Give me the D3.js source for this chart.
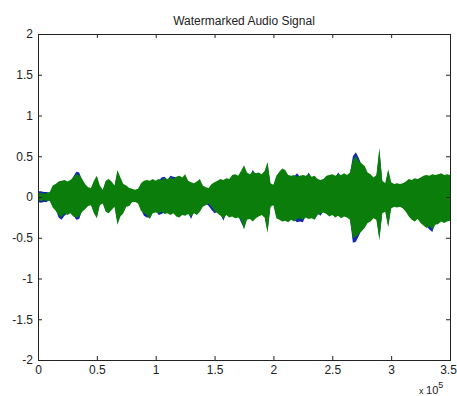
<!DOCTYPE html>
<html>
<head>
<meta charset="utf-8">
<script src="https://cdn.jsdelivr.net/npm/d3@7"></script>
<style>
  body { margin: 0; background: #fff; }
  text { font-family: "Liberation Sans", Arial, sans-serif; fill: #222; }
</style>
</head>
<body>
<div id="chart"></div>
<script>
// envelopes read every 2500 samples
const sampleStep = 2500

// watermarked signal (green)
const greenTop = [
  0.05, 0.05, 0.04, 0.05, 0.06, 0.14, 0.16, 0.19, 0.20, 0.21,
  0.19, 0.21, 0.24, 0.28, 0.27, 0.22, 0.16, 0.12, 0.11, 0.20,
  0.26, 0.14, 0.09, 0.20, 0.22, 0.19, 0.14, 0.33, 0.24, 0.16,
  0.14, 0.11, 0.10, 0.09, 0.10, 0.17, 0.20, 0.21, 0.20, 0.22,
  0.20, 0.22, 0.21, 0.23, 0.22, 0.24, 0.22, 0.25, 0.26, 0.24,
  0.28, 0.20, 0.18, 0.17, 0.19, 0.22, 0.14, 0.12, 0.11, 0.16,
  0.18, 0.20, 0.22, 0.21, 0.23, 0.22, 0.27, 0.28, 0.26, 0.32,
  0.39, 0.30, 0.28, 0.31, 0.29, 0.30, 0.28, 0.32, 0.43, 0.17,
  0.15, 0.26, 0.31, 0.35, 0.33, 0.27, 0.26, 0.27, 0.25, 0.26,
  0.27, 0.26, 0.28, 0.25, 0.26, 0.22, 0.21, 0.22, 0.26, 0.27,
  0.28, 0.26, 0.28, 0.27, 0.29, 0.27, 0.30, 0.45, 0.50, 0.44,
  0.41, 0.38, 0.30, 0.28, 0.24, 0.27, 0.60, 0.20, 0.17, 0.34,
  0.18, 0.16, 0.17, 0.16, 0.17, 0.19, 0.22, 0.21, 0.23, 0.22,
  0.24, 0.26, 0.27, 0.26, 0.28, 0.27, 0.28, 0.29, 0.27, 0.28,
  0.27
]
const greenBottom = [
  -0.04, -0.05, -0.04, -0.05, -0.05, -0.13, -0.17, -0.22, -0.25, -0.20,
  -0.22, -0.20, -0.24, -0.25, -0.24, -0.18, -0.15, -0.11, -0.10, -0.20,
  -0.26, -0.10, -0.08, -0.18, -0.20, -0.16, -0.12, -0.34, -0.24, -0.20,
  -0.12, -0.11, -0.06, -0.06, -0.08, -0.17, -0.20, -0.22, -0.27, -0.20,
  -0.19, -0.20, -0.18, -0.21, -0.20, -0.22, -0.20, -0.24, -0.25, -0.22,
  -0.23, -0.21, -0.24, -0.20, -0.22, -0.18, -0.12, -0.10, -0.08, -0.12,
  -0.17, -0.20, -0.23, -0.26, -0.22, -0.25, -0.24, -0.26, -0.25, -0.28,
  -0.40, -0.28, -0.27, -0.30, -0.26, -0.24, -0.22, -0.25, -0.44, -0.12,
  -0.10, -0.26, -0.28, -0.30, -0.29, -0.31, -0.28, -0.30, -0.27, -0.26,
  -0.28, -0.25, -0.27, -0.26, -0.28, -0.22, -0.20, -0.19, -0.21, -0.24,
  -0.22, -0.25, -0.23, -0.26, -0.24, -0.25, -0.28, -0.50, -0.49, -0.45,
  -0.42, -0.38, -0.32, -0.30, -0.26, -0.28, -0.53, -0.20, -0.18, -0.37,
  -0.14, -0.12, -0.13, -0.12, -0.14, -0.18, -0.24, -0.28, -0.30, -0.27,
  -0.32, -0.35, -0.38, -0.36, -0.40, -0.34, -0.33, -0.30, -0.32, -0.30,
  -0.29
]

// original signal (blue), mostly hidden under the green one
const blueTop = [
  0.07, 0.07, 0.06, 0.06, 0.05, 0.12, 0.14, 0.17, 0.19, 0.19,
  0.17, 0.19, 0.25, 0.31, 0.30, 0.21, 0.14, 0.10, 0.09, 0.18,
  0.24, 0.12, 0.07, 0.18, 0.20, 0.17, 0.12, 0.30, 0.22, 0.14,
  0.12, 0.09, 0.08, 0.07, 0.08, 0.15, 0.18, 0.19, 0.18, 0.20,
  0.18, 0.20, 0.24, 0.25, 0.21, 0.26, 0.25, 0.24, 0.25, 0.22,
  0.26, 0.18, 0.16, 0.15, 0.17, 0.20, 0.12, 0.10, 0.09, 0.14,
  0.16, 0.18, 0.20, 0.19, 0.21, 0.20, 0.25, 0.26, 0.24, 0.30,
  0.36, 0.28, 0.26, 0.33, 0.27, 0.28, 0.26, 0.30, 0.40, 0.15,
  0.13, 0.24, 0.29, 0.33, 0.31, 0.25, 0.24, 0.25, 0.29, 0.25,
  0.25, 0.24, 0.30, 0.23, 0.24, 0.20, 0.19, 0.20, 0.24, 0.25,
  0.26, 0.24, 0.30, 0.25, 0.27, 0.25, 0.28, 0.50, 0.55, 0.48,
  0.39, 0.36, 0.28, 0.26, 0.22, 0.25, 0.57, 0.18, 0.15, 0.32,
  0.16, 0.14, 0.15, 0.14, 0.15, 0.17, 0.20, 0.19, 0.21, 0.20,
  0.22, 0.24, 0.25, 0.24, 0.26, 0.25, 0.26, 0.27, 0.25, 0.26,
  0.25
]
const blueBottom = [
  -0.06, -0.07, -0.06, -0.06, -0.03, -0.11, -0.15, -0.25, -0.28, -0.23,
  -0.20, -0.18, -0.22, -0.28, -0.27, -0.16, -0.13, -0.09, -0.08, -0.18,
  -0.24, -0.08, -0.06, -0.16, -0.18, -0.14, -0.10, -0.31, -0.22, -0.18,
  -0.10, -0.09, -0.04, -0.04, -0.06, -0.15, -0.23, -0.25, -0.25, -0.18,
  -0.17, -0.22, -0.21, -0.19, -0.18, -0.20, -0.18, -0.22, -0.23, -0.20,
  -0.21, -0.19, -0.27, -0.18, -0.20, -0.16, -0.10, -0.08, -0.11, -0.16,
  -0.20, -0.18, -0.21, -0.29, -0.20, -0.23, -0.22, -0.24, -0.23, -0.31,
  -0.38, -0.26, -0.25, -0.28, -0.24, -0.22, -0.20, -0.23, -0.41, -0.10,
  -0.08, -0.24, -0.26, -0.28, -0.27, -0.29, -0.26, -0.28, -0.31, -0.30,
  -0.31, -0.23, -0.25, -0.24, -0.26, -0.20, -0.23, -0.17, -0.19, -0.22,
  -0.20, -0.23, -0.21, -0.24, -0.22, -0.23, -0.26, -0.56, -0.55, -0.48,
  -0.40, -0.36, -0.30, -0.28, -0.24, -0.26, -0.50, -0.18, -0.16, -0.35,
  -0.12, -0.10, -0.11, -0.10, -0.12, -0.16, -0.22, -0.26, -0.28, -0.25,
  -0.30, -0.33, -0.36, -0.40, -0.43, -0.32, -0.31, -0.28, -0.30, -0.28,
  -0.27
]

const xTicks = [0, 50000, 100000, 150000, 200000, 250000, 300000, 350000]
const xTickLabels = ['0', '0.5', '1', '1.5', '2', '2.5', '3', '3.5']
const yTicks = [-2, -1.5, -1, -0.5, 0, 0.5, 1, 1.5, 2]
const yTickLabels = ['-2', '-1.5', '-1', '-0.5', '0', '0.5', '1', '1.5', '2']
const title = 'Watermarked Audio Signal'

const width = 457
const height = 396
const margin = {top: 34, right: 7, bottom: 36, left: 38}
const chartWidth = width - margin.left - margin.right
const chartHeight = height - margin.top - margin.bottom

const svg = d3.select('#chart')
  .append('svg')
    .attr('width', width)
    .attr('height', height)

const g = svg.append('g')
    .attr('transform', 'translate(' + margin.left + ',' + margin.top + ')')

const xScale = d3.scaleLinear().domain([0, 350000]).range([0, chartWidth])
const yScale = d3.scaleLinear().domain([-2, 2]).range([chartHeight, 0])

const envelope = (top, bottom) => {
  const pts = top.map((t, i) => ({x: i * sampleStep, hi: t, lo: bottom[i]}))
  return d3.area()
    .x(d => xScale(d.x))
    .y0(d => yScale(d.lo))
    .y1(d => yScale(d.hi))(pts)
}

// original plotted first, watermarked drawn over it
g.append('path')
  .attr('d', envelope(blueTop, blueBottom))
  .attr('fill', '#1428b0')

g.append('path')
  .attr('d', envelope(greenTop, greenBottom))
  .attr('fill', '#0a7d0a')

// box with inward ticks on all four sides
const xFmt = (d, i) => xTickLabels[i]
const yFmt = (d, i) => yTickLabels[i]

const bottomAxis = g.append('g')
  .attr('transform', 'translate(0,' + chartHeight + ')')
  .call(d3.axisBottom(xScale).tickValues(xTicks).tickFormat(xFmt).tickSize(-4).tickSizeOuter(0).tickPadding(5))
const topAxis = g.append('g')
  .call(d3.axisTop(xScale).tickValues(xTicks).tickFormat('').tickSize(-4).tickSizeOuter(0))
const leftAxis = g.append('g')
  .call(d3.axisLeft(yScale).tickValues(yTicks).tickFormat(yFmt).tickSize(-4).tickSizeOuter(0).tickPadding(5))
const rightAxis = g.append('g')
  .attr('transform', 'translate(' + chartWidth + ',0)')
  .call(d3.axisRight(yScale).tickValues(yTicks).tickFormat('').tickSize(-4).tickSizeOuter(0))

;[bottomAxis, topAxis, leftAxis, rightAxis].forEach(a => {
  a.select('.domain').remove()
  a.selectAll('line').attr('stroke', '#222')
  a.selectAll('text')
    .style('font-family', '"Liberation Sans", Arial, sans-serif')
    .style('font-size', '12px')
    .attr('fill', '#222')
})

// last x label sits at the window edge
bottomAxis.selectAll('.tick:last-of-type text').attr('dx', -2)

g.append('rect')
  .attr('width', chartWidth)
  .attr('height', chartHeight)
  .attr('fill', 'none')
  .attr('stroke', '#222')
  .attr('stroke-width', 1)
  .attr('shape-rendering', 'crispEdges')

svg.append('text')
  .attr('x', margin.left + chartWidth / 2)
  .attr('y', 25)
  .attr('text-anchor', 'middle')
  .style('font-size', '12px')
  .text(title)

// exponent label under the x axis
const expo = svg.append('text')
  .attr('x', 419)
  .attr('y', 394)
  .style('font-size', '11px')
expo.append('tspan').style('font-size', '9px').text('x ')
expo.append('tspan').text('10')
expo.append('tspan').attr('dy', -6).style('font-size', '9px').text('5')
</script>
</body>
</html>
